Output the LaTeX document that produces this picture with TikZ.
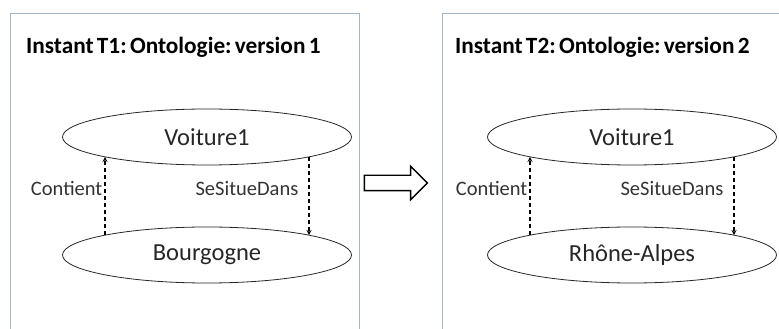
\documentclass[tikz,border=0pt]{standalone}
\usepackage{fontspec}
\setmainfont{Carlito}
\usetikzlibrary{shapes.geometric, shapes.arrows, arrows, positioning}
\definecolor{framegrey}{RGB}{165,180,198}
\newcommand{\tightsp}{\frenchspacing\spaceskip=0.14em\relax}
\tikzstyle{frame} = [rectangle, draw=framegrey, line width=1pt, minimum width=349pt, minimum height=330pt, anchor=north west, inner sep=0, outer sep=0]
\tikzstyle{heading} = [font=\bfseries\fontsize{23.3}{27}\selectfont\tightsp, anchor=west, inner sep=0]
\tikzstyle{oval} = [ellipse, draw=black!85, line width=0.8pt, minimum width=289pt, minimum height=56pt, inner sep=0, outer sep=0, font=\fontsize{24.5}{28}\selectfont, text=black!85]
\tikzstyle{hollow} = [single arrow, draw, line width=1.4pt, minimum height=63pt, inner sep=7pt, single arrow head extend=9pt]
\tikzstyle{line} = [draw, dashed, dash pattern=on 4pt off 3pt, line width=1.3pt, ->, >=stealth]
\tikzstyle{lab} = [font=\fontsize{20.5}{23}\selectfont, text=black!80, inner sep=2pt]

\begin{document}
\begin{tikzpicture}[x=1pt, y=1pt]
\clip (0,0) rectangle (779,329);

% version 1
\node [frame] (F1) at (10,315) {};
\node [heading] (T1) at (26,282) {Instant T1: Ontologie: version 1};
\node [oval] (V1) at (207,192) {Voiture1};
\node [oval, below=62pt of V1] (B1) {Bourgogne};
\path [line] (B1.169) -- node[lab, left, pos=0.6] {Contient} (V1.191);
\path [line] (V1.349) -- node[lab, left, pos=0.4, xshift=-8pt] {SeSitueDans} (B1.11);

% passage
\node [hollow] (A) at (392,146) {};

% version 2
\node [frame] (F2) at (442,315) {};
\node [heading] (T2) at (455,282) {Instant T2: Ontologie: version 2};
\node [oval] (V2) at (632,192) {Voiture1};
\node [oval, below=62pt of V2] (B2) {Rhône-Alpes};
\path [line] (B2.169) -- node[lab, left, pos=0.6] {Contient} (V2.191);
\path [line] (V2.349) -- node[lab, left, pos=0.4, xshift=-8pt] {SeSitueDans} (B2.11);

\end{tikzpicture}
\end{document}
